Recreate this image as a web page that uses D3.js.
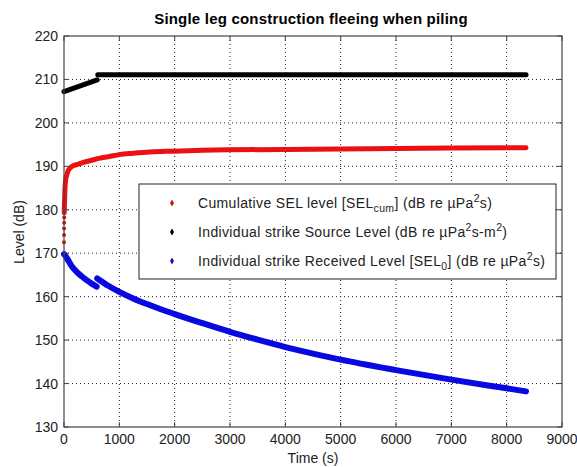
<!DOCTYPE html>
<html><head><meta charset="utf-8">
<script src="https://cdnjs.cloudflare.com/ajax/libs/d3/7.8.5/d3.min.js"></script>
<style>body{margin:0;background:#fff}svg{display:block}</style>
</head><body><svg id="c" width="577" height="467"></svg>
<script>
// ---- data ----
const xTicks = [0,1000,2000,3000,4000,5000,6000,7000,8000,9000];
const yTicks = [130,140,150,160,170,180,190,200,210,220];
// Cumulative SEL (red); first points are isolated strike markers at the start
const redT = [0,1,2,3,4,5,6,10,18,30,50,75,110,160,230,350,500,650,800,1000,1250,1550,2000,2500,3000,4000,5000,6000,7000,8350];
const redV = [172.5,174.2,175.7,177.0,178.2,179.3,180.2,182.0,185.0,186.8,188.0,189.0,189.6,190.1,190.4,190.9,191.4,191.9,192.2,192.7,193.0,193.3,193.5,193.7,193.8,193.9,194.0,194.1,194.2,194.3];
const redSparse = 6;
// Source level (black), two segments
const blackT1 = [0,600];
const blackV1 = [207.2,209.9];
const blackT2 = [610,8350];
const blackV2 = [211.1,211.1];
// Received level (blue), two segments
const blueT1 = [0,50,140,230,320,410,500,590];
const blueV1 = [169.8,168.9,167.0,165.7,164.7,163.8,163.0,162.3];
const blueT2 = [600,800,1000,1250,1500,1750,2000,2500,3000,3500,4000,4500,5000,6000,7000,8000,8350];
const blueV2 = [164.2,162.5,161.1,159.6,158.3,157.1,156.0,153.9,151.9,150.1,148.4,146.9,145.5,143.1,140.9,138.9,138.2];

const svg = d3.select('#c');
const L=64,R=562,T=36,B=427;
const x = d3.scaleLinear().domain([0,9000]).range([L,R]);
const y = d3.scaleLinear().domain([130,220]).range([B,T]);
const font = 'Arial, "Liberation Sans", Helvetica, sans-serif';

svg.append('rect').attr('x',L).attr('y',T).attr('width',R-L).attr('height',B-T).attr('fill','#fff');

// grid
const g = svg.append('g');
xTicks.slice(1,-1).forEach(t=>g.append('line').attr('x1',x(t)).attr('x2',x(t)).attr('y1',T).attr('y2',B)
  .attr('stroke','#222').attr('stroke-width',1).attr('stroke-dasharray','1,3'));
yTicks.slice(1,-1).forEach(t=>g.append('line').attr('y1',y(t)).attr('y2',y(t)).attr('x1',L).attr('x2',R)
  .attr('stroke','#222').attr('stroke-width',1).attr('stroke-dasharray','1,3'));

const line = d3.line().x(d=>x(d[0])).y(d=>y(d[1])).curve(d3.curveMonotoneX);
function seg(T_,V_,color,w){
  const pts = T_.map((t,i)=>[t,V_[i]]);
  svg.append('path').attr('d',line(pts)).attr('fill','none').attr('stroke',color)
    .attr('stroke-width',w).attr('stroke-linecap','round').attr('stroke-linejoin','round');
}
// red
svg.selectAll('.rd').data(redT.slice(0,redSparse)).enter().append('circle')
  .attr('cx',d=>x(d)).attr('cy',(d,i)=>y(redV[i])).attr('r',2).attr('fill','#e01010');
seg(redT.slice(redSparse-1),redV.slice(redSparse-1),'#ee1010',5);
seg(blackT1,blackV1,'#000',5);
seg(blackT2,blackV2,'#000',5);
seg(blueT1,blueV1,'#0808e0',6);
seg(blueT2,blueV2,'#0808e0',6);

// axes frame
svg.append('rect').attr('x',L).attr('y',T).attr('width',R-L).attr('height',B-T)
  .attr('fill','none').attr('stroke','#444').attr('stroke-width',1.2);
// inward ticks
xTicks.forEach(t=>{
  svg.append('line').attr('x1',x(t)).attr('x2',x(t)).attr('y1',B).attr('y2',B-5).attr('stroke','#444');
  svg.append('line').attr('x1',x(t)).attr('x2',x(t)).attr('y1',T).attr('y2',T+5).attr('stroke','#444');
  svg.append('text').attr('x',x(t)).attr('y',444).attr('text-anchor','middle')
    .attr('font-family',font).attr('font-size',14).attr('fill','#222').text(t);
});
yTicks.forEach(t=>{
  svg.append('line').attr('y1',y(t)).attr('y2',y(t)).attr('x1',L).attr('x2',L+5).attr('stroke','#444');
  svg.append('line').attr('y1',y(t)).attr('y2',y(t)).attr('x1',R).attr('x2',R-5).attr('stroke','#444');
  svg.append('text').attr('x',58).attr('y',y(t)+5).attr('text-anchor','end')
    .attr('font-family',font).attr('font-size',14).attr('fill','#222').text(t);
});

// title & labels
svg.append('text').attr('x',311).attr('y',24).attr('text-anchor','middle')
  .attr('font-family',font).attr('font-size',15).attr('font-weight','bold').attr('fill','#000')
  .attr('letter-spacing',0.2)
  .text('Single leg construction fleeing when piling');
svg.append('text').attr('x',313).attr('y',463).attr('text-anchor','middle')
  .attr('font-family',font).attr('font-size',14).attr('fill','#222').text('Time (s)');
svg.append('text').attr('transform','translate(24,232) rotate(-90)').attr('text-anchor','middle')
  .attr('font-family',font).attr('font-size',14).attr('fill','#222').text('Level (dB)');

// legend
const lg = svg.append('g');
lg.append('rect').attr('x',139).attr('y',184).attr('width',417).attr('height',95)
  .attr('fill','#fff').attr('stroke','#222').attr('stroke-width',1);
const legend = [
  {c:'#d01010', parts:[['Cumulative SEL level [SEL',0],['cum',1],['] (dB re \u00b5Pa',0],['2',-1],['s)',0]]},
  {c:'#000', parts:[['Individual strike Source Level (dB re \u00b5Pa',0],['2',-1],['s-m',0],['2',-1],[')',0]]},
  {c:'#1010d0', parts:[['Individual strike Received Level [SEL',0],['0',1],['] (dB re \u00b5Pa',0],['2',-1],['s)',0]]}
];
const rowsY = [203,232,261];
legend.forEach((e,i)=>{
  lg.append('path').attr('d',d3.symbol(d3.symbolDiamond,14)()).attr('transform',`translate(172,${rowsY[i]})`).attr('fill',e.c);
  const tx = lg.append('text').attr('x',198).attr('y',rowsY[i]+5)
    .attr('font-family',font).attr('font-size',14).attr('fill','#222').attr('letter-spacing',0.35);
  let prev=0;
  e.parts.forEach(([s,k])=>{
    const off = k===1?4:(k===-1?-6:0);
    tx.append('tspan').attr('dy',off-prev).attr('font-size',k===0?14:10.5).text(s);
    prev=off;
  });
});
</script></body></html>
